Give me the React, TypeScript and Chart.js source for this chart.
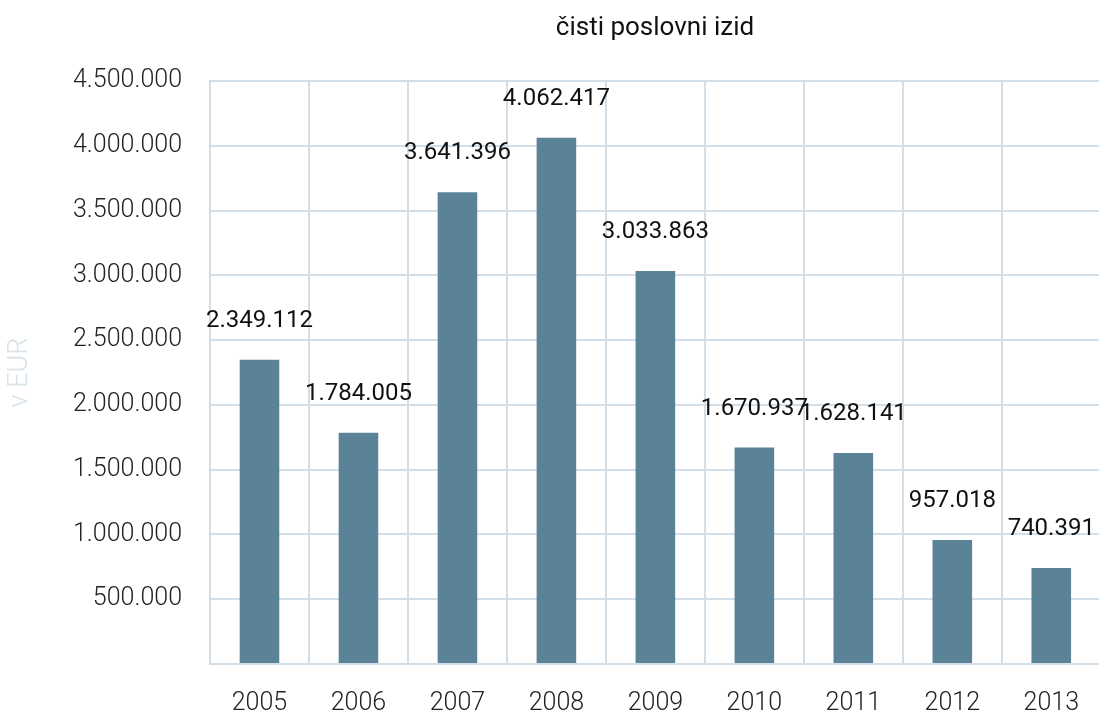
import React, { useEffect, useRef } from "react";
import { Chart, registerables } from "chart.js";

Chart.register(...registerables);

const categories = ["2005", "2006", "2007", "2008", "2009", "2010", "2011", "2012", "2013"];
const values = [2349112, 1784005, 3641396, 4062417, 3033863, 1670937, 1628141, 957018, 740391];
const chartTitle = "čisti poslovni izid";
const yAxisTitle = "v EUR";

const fmt = (v: number) => String(Math.round(v)).replace(/\B(?=(\d{3})+(?!\d))/g, ".");

const FONT = "Roboto, 'DejaVu Sans', sans-serif";
const GRID = "#d3dfe8";

export default function App() {
  const ref = useRef<HTMLCanvasElement>(null);
  useEffect(() => {
    document.body.style.margin = "0";
    const labelPlugin = {
      id: "valueLabels",
      afterDatasetsDraw(chart: any) {
        const ctx = chart.ctx;
        const meta = chart.getDatasetMeta(0);
        ctx.save();
        ctx.font = `400 24px ${FONT}`;
        ctx.fillStyle = "#111111";
        ctx.textAlign = "center";
        ctx.textBaseline = "middle";
        meta.data.forEach((bar: any, i: number) => {
          ctx.fillText(fmt(values[i]), bar.x, bar.y - 39);
        });
        ctx.font = `400 26px ${FONT}`;
        ctx.fillText(chartTitle, 655, 28);
        ctx.restore();
      },
    };
    const chart = new Chart(ref.current!, {
      type: "bar",
      data: {
        labels: categories,
        datasets: [
          {
            data: values,
            backgroundColor: "#5b8398",
            barPercentage: 0.4,
            categoryPercentage: 1,
          },
        ],
      },
      plugins: [labelPlugin],
      options: {
        animation: false,
        responsive: false,
        maintainAspectRatio: false,
        layout: { padding: { top: 81, right: 0, left: 0, bottom: 0 } },
        plugins: { legend: { display: false }, title: { display: false }, tooltip: { enabled: false } },
        scales: {
          x: {
            grid: { color: GRID, lineWidth: 2, drawTicks: false, offset: true },
            border: { color: GRID, width: 2 },
            ticks: { font: { family: FONT, size: 25, weight: 300 }, color: "#222222", padding: 25 },
            afterFit: (s: any) => {
              s.height = 51;
            },
          },
          y: {
            min: 0,
            max: 4500000,
            grid: { color: GRID, lineWidth: 2, drawTicks: false },
            border: { color: GRID, width: 2 },
            ticks: {
              stepSize: 500000,
              font: { family: FONT, size: 25, weight: 300 },
              color: "#222222",
              padding: 28,
              callback: (v: any) => (Number(v) === 0 ? "" : fmt(Number(v))),
            },
            title: {
              display: true,
              text: yAxisTitle,
              color: "#d5e2ea",
              font: { family: FONT, size: 27, weight: 300 },
              padding: { top: 4, bottom: 0 },
            },
            afterFit: (s: any) => {
              s.width = 210;
            },
          },
        },
      },
    });
    return () => chart.destroy();
  }, []);
  return (
    <div style={{ width: 1099, height: 715, overflow: "hidden", position: "relative" }}>
      <canvas ref={ref} width={1104} height={715} style={{ display: "block", width: 1104, height: 715 }} />
    </div>
  );
}
